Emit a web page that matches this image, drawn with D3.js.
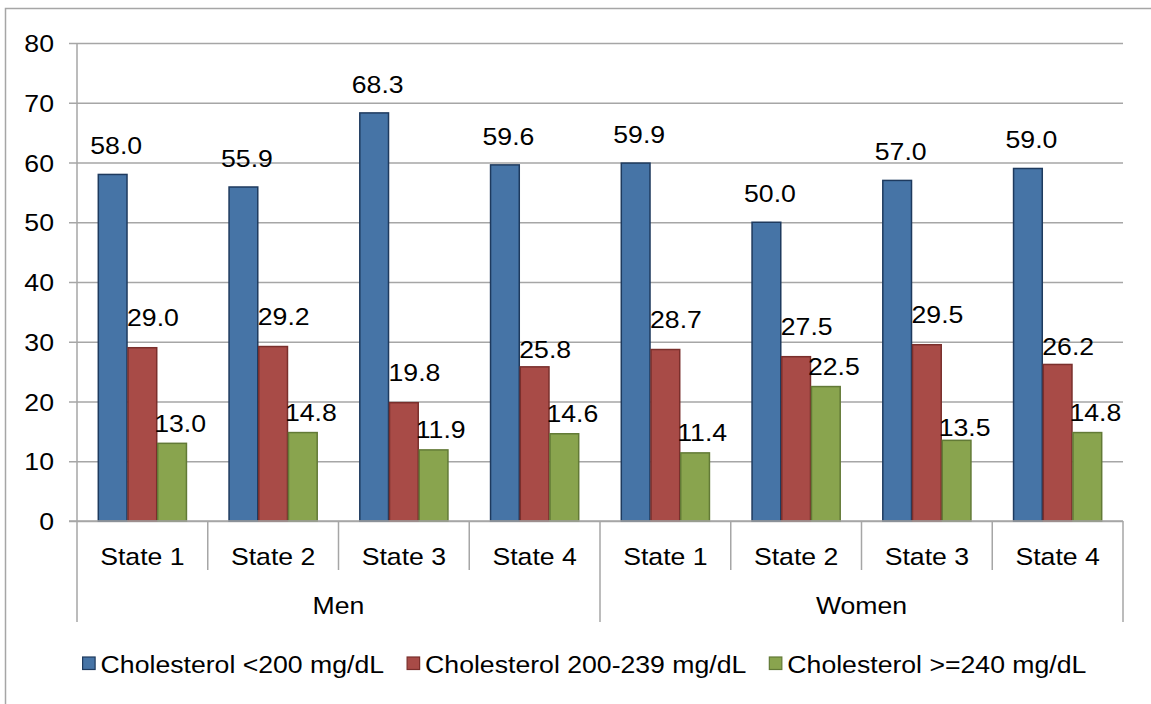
<!DOCTYPE html>
<html>
<head>
<meta charset="utf-8">
<script src="https://cdn.jsdelivr.net/npm/d3@7"></script>
<style>
  html, body { margin: 0; padding: 0; background: #fff; }
  svg { display: block; }
  text { font-family: "Liberation Sans", Arial, sans-serif; fill: #000; }
</style>
</head>
<body>
<svg id="chart" width="1151" height="704"></svg>
<script>
// Cholesterol levels by state and sex (percent of respondents)
const groups = ["Men", "Women"];
const states = ["State 1", "State 2", "State 3", "State 4"];
const seriesNames = [
  "Cholesterol <200 mg/dL",
  "Cholesterol 200-239 mg/dL",
  "Cholesterol >=240 mg/dL"
];
const below200 = [58.0, 55.9, 68.3, 59.6, 59.9, 50.0, 57.0, 59.0];
const from200to239 = [29.0, 29.2, 19.8, 25.8, 28.7, 27.5, 29.5, 26.2];
const atLeast240 = [13.0, 14.8, 11.9, 14.6, 11.4, 22.5, 13.5, 14.8];
const yTicks = [0, 10, 20, 30, 40, 50, 60, 70, 80];

const seriesValues = [below200, from200to239, atLeast240];
const fills = ["#4674A6", "#A84B47", "#89A44E"];
const strokes = ["#1E3A5E", "#7A2F2C", "#627A36"];

// label placement: horizontal shift from bar's left edge, lift above bar top
const labelDx = [-7.5, -0.5, -3];
const labelLift = [20, 21.5, 11.5];
// a few labels sit closer to their bars
const labelNudge = [
  { series: 1, cat: 3, dy: 12.5 },
  { series: 1, cat: 7, dy: 12.5 },
  { series: 2, cat: 6, dy: 7.5 }
];

const SX = 1.11; // horizontal text stretch
const FONT = 24;

const svg = d3.select("#chart");
const plotLeft = 77, plotRight = 1123, plotTop = 43, plotBottom = 521;

const catKeys = d3.range(groups.length * states.length);
const x0 = d3.scaleBand().domain(catKeys).range([plotLeft, plotRight]).padding(0);
const x1 = d3.scaleBand().domain(d3.range(seriesValues.length))
  .range([0, x0.bandwidth()]).paddingInner(0).paddingOuter(0.7);
const y = d3.scaleLinear().domain([0, 80]).range([plotBottom, plotTop]);

const gray = "#A6A6A6";

function label(g, str, x, yy, anchor, size) {
  return g.append("text")
    .attr("transform", `translate(${x},${yy}) scale(${SX},1)`)
    .attr("text-anchor", anchor)
    .attr("font-size", size || FONT)
    .text(str);
}

// outer frame
svg.append("rect")
  .attr("x", 5.5).attr("y", 8.5).attr("width", 1200).attr("height", 800)
  .attr("fill", "none").attr("stroke", gray).attr("stroke-width", 1.5);

// value axis gridlines (drawn from the right edge back past the axis as ticks)
const yAxis = d3.axisLeft(y).tickValues(yTicks)
  .tickSize(plotRight - plotLeft + 8).tickFormat(() => "");
const yg = svg.append("g").attr("transform", `translate(${plotRight},0)`).call(yAxis);
yg.select(".domain").remove();
yg.selectAll(".tick line").attr("stroke", gray).attr("stroke-width", 1.5);

const tickLabels = svg.append("g");
yTicks.forEach(t => label(tickLabels, String(t), 54, y(t) + 9, "end"));

// vertical value-axis line
svg.append("line")
  .attr("x1", plotLeft).attr("x2", plotLeft).attr("y1", plotTop).attr("y2", plotBottom)
  .attr("stroke", gray).attr("stroke-width", 1.5);

// bars
const barsG = svg.append("g");
seriesValues.forEach((vals, s) => {
  barsG.selectAll(null).data(vals).enter().append("rect")
    .attr("x", (d, i) => x0(i) + x1(s) + 0.5)
    .attr("y", d => y(d))
    .attr("width", x1.bandwidth() - 1)
    .attr("height", d => y(0) - y(d))
    .attr("fill", fills[s])
    .attr("stroke", strokes[s])
    .attr("stroke-width", 1.5);
});

// value labels
const fmt = d3.format(".1f");
const valG = svg.append("g");
seriesValues.forEach((vals, s) => {
  vals.forEach((v, i) => {
    const n = labelNudge.find(o => o.series === s && o.cat === i);
    const lift = labelLift[s] - (n ? n.dy : 0);
    label(valG, fmt(v), x0(i) + x1(s) + labelDx[s], y(v) - lift, "start");
  });
});

// category axis: baseline, separators, state and group labels
svg.append("line")
  .attr("x1", plotLeft - 8).attr("x2", plotRight).attr("y1", plotBottom).attr("y2", plotBottom)
  .attr("stroke", gray).attr("stroke-width", 1.5);

const catG = svg.append("g");
const edges = catKeys.map(k => x0(k)).concat([plotRight]);
edges.forEach((ex, j) => {
  const groupEdge = j % states.length === 0;
  catG.append("line")
    .attr("x1", ex).attr("x2", ex)
    .attr("y1", plotBottom).attr("y2", groupEdge ? 622 : 570)
    .attr("stroke", gray).attr("stroke-width", 1.5);
});
catKeys.forEach(k => {
  label(catG, states[k % states.length], x0(k) + x0.bandwidth() / 2, 565, "middle");
});
groups.forEach((gname, gi) => {
  const gx0 = x0(gi * states.length);
  const gx1 = gi === groups.length - 1 ? plotRight : x0((gi + 1) * states.length);
  label(catG, gname, (gx0 + gx1) / 2, 614, "middle");
});

// legend
const legG = svg.append("g");
const items = seriesNames.map((name, s) => {
  const g = legG.append("g");
  g.append("rect")
    .attr("x", 0).attr("y", 657).attr("width", 12.5).attr("height", 12.5)
    .attr("fill", fills[s]).attr("stroke", strokes[s]).attr("stroke-width", 1.2);
  const t = label(g, name, 18, 673, "start");
  const w = 18 + t.node().getComputedTextLength() * SX;
  return { g, w };
});
const gap = 23;
const total = d3.sum(items, d => d.w) + gap * (items.length - 1);
let cx = 584.5 - total / 2;
items.forEach(it => {
  it.g.attr("transform", `translate(${cx},0)`);
  cx += it.w + gap;
});
</script>
</body>
</html>
